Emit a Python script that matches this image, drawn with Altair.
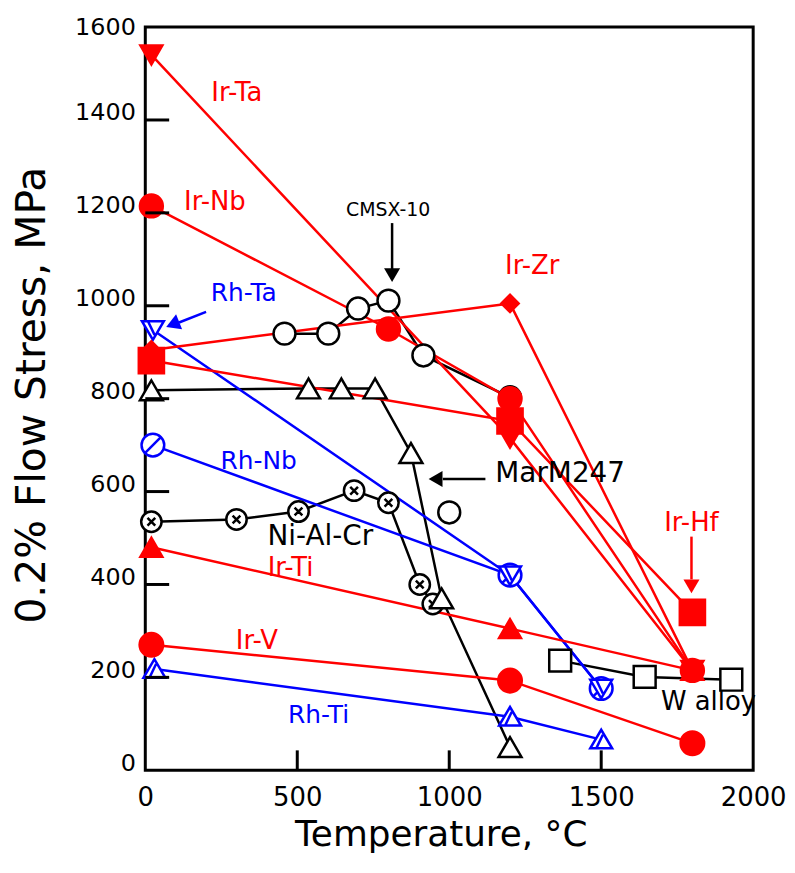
import altair as alt
import pandas as pd

FONT = "DejaVu Sans"
RED = "#ff0000"
BLUE = "#0000ff"
BLACK = "#000000"
WHITE = "#ffffff"

# ---------------- data (temperature in °C, 0.2% flow stress in MPa) ----------------
ir_ta_t = [20, 1200, 1800]
ir_ta_s = [1540, 715, 215]
ir_nb_t = [20, 800, 1200, 1800]
ir_nb_s = [1215, 950, 800, 215]
ir_zr_t = [20, 1200, 1800]
ir_zr_s = [905, 1005, 215]
ir_hf_t = [20, 1200, 1800]
ir_hf_s = [882, 752, 340]
ir_ti_t = [20, 1200, 1800]
ir_ti_s = [480, 305, 215]
ir_v_t = [20, 1200, 1800]
ir_v_s = [270, 193, 58]
rh_ta_t = [25, 1200, 1500]
rh_ta_s = [948, 420, 176]
rh_nb_t = [25, 1200, 1500]
rh_nb_s = [700, 420, 176]
rh_ti_t = [30, 1200, 1500]
rh_ti_s = [218, 115, 66]
cmsx_t = [458, 602, 700, 800, 915, 1200]
cmsx_s = [940, 940, 994, 1011, 893, 803]
marm_t = [20, 537, 645, 756, 874, 975, 1200]
marm_s = [818, 822, 822, 822, 683, 370, 50]
nialcr_t = [20, 300, 504, 687, 800, 903, 946]
nialcr_s = [535, 540, 557, 602, 576, 400, 358]
walloy_t = [1365, 1643, 1928]
walloy_s = [236, 201, 195]
single_t = [1000]
single_s = [555]

# marker outlines (custom symbol paths in the unit square)
CIRCLE_X = "M-1,0A1,1,0,1,1,1,0A1,1,0,1,1,-1,0Z M-0.38,-0.38L0.38,0.38 M-0.38,0.38L0.38,-0.38"
HATCH_CIRCLE = "M-1,0A1,1,0,1,1,1,0A1,1,0,1,1,-1,0Z M-0.7,0.7L0.7,-0.7"
HATCH_TRI_DOWN = "M-1,-0.8L1,-0.8L0,0.9Z M-0.45,-0.8L0.15,0.45"
HATCH_TRI_UP = "M-1,0.8L1,0.8L0,-0.9Z M-0.45,0.8L0.15,-0.45"

# name, temps, stresses, has line, line colour, shape, size, fill, stroke
series = [
    ("W alloy", walloy_t, walloy_s, True, BLACK, "square", 484, WHITE, BLACK),
    ("Ni-Al-Cr", nialcr_t, nialcr_s, True, BLACK, CIRCLE_X, 420, WHITE, BLACK),
    ("MarM247", marm_t, marm_s, True, BLACK, "triangle-up", 530, WHITE, BLACK),
    ("CMSX-10", cmsx_t, cmsx_s, True, BLACK, "circle", 484, WHITE, BLACK),
    ("single", single_t, single_s, False, BLACK, "circle", 484, WHITE, BLACK),
    ("Rh-Ti", rh_ti_t, rh_ti_s, True, BLUE, HATCH_TRI_UP, 484, WHITE, BLUE),
    ("Rh-Nb", rh_nb_t, rh_nb_s, True, BLUE, HATCH_CIRCLE, 520, WHITE, BLUE),
    ("Rh-Ta", rh_ta_t, rh_ta_s, True, BLUE, HATCH_TRI_DOWN, 484, WHITE, BLUE),
    ("Ir-V", ir_v_t, ir_v_s, True, RED, "circle", 560, RED, RED),
    ("Ir-Ti", ir_ti_t, ir_ti_s, True, RED, "triangle-up", 484, RED, RED),
    ("Ir-Zr", ir_zr_t, ir_zr_s, True, RED, "diamond", 300, RED, RED),
    ("Ir-Hf", ir_hf_t, ir_hf_s, True, RED, "square", 640, RED, RED),
    ("Ir-Nb", ir_nb_t, ir_nb_s, True, RED, "circle", 530, RED, RED),
    ("Ir-Ta", ir_ta_t, ir_ta_s, True, RED, "triangle-down", 484, RED, RED),
]

rows = []
for i, (name, ts, ss, has_line, lc, shp, sz, fl, st) in enumerate(series):
    for j, (t, s) in enumerate(zip(ts, ss)):
        rows.append({"series": name, "T": t, "S": s, "line": has_line, "ord": i * 100 + j,
                     "lc": lc, "shape": shp, "sz": sz, "fill": fl, "stroke": st})
df = pd.DataFrame(rows)
df_lines = df[df["line"]]

# text annotations
lab_text = ["Ir-Ta", "Ir-Nb", "Rh-Ta", "Ir-Zr", "CMSX-10", "MarM247", "Rh-Nb",
            "Ni-Al-Cr", "Ir-Ti", "Ir-Hf", "Ir-V", "Rh-Ti", "W  alloy"]
lab_t = [301, 229, 324, 1273, 799, 1365, 373, 576, 478, 1797, 367, 570, 1853]
lab_s = [1458, 1223, 1028, 1086, 1206, 638, 666, 503, 435, 533, 278, 118, 146]
lab_c = [RED, RED, BLUE, RED, BLACK, BLACK, BLUE, BLACK, RED, RED, RED, BLUE, BLACK]
lab_fs = [26, 26, 25, 26, 19, 28, 25, 28, 26, 26, 26, 25, 26]
df_lab = pd.DataFrame({"T": lab_t, "S": lab_s, "txt": lab_text, "c": lab_c, "fs": lab_fs})

# arrows (shaft start -> shaft end, head position / direction)
arr_t1 = [812, 1119, 200, 1797]
arr_s1 = [1178, 627, 987, 503]
arr_t2 = [812, 979, 111, 1797]
arr_s2 = [1079, 627, 964, 411]
arr_c = [BLACK, BLACK, BLUE, RED]
head_t = [812, 955, 90, 1797]
head_s = [1066, 627, 960, 396]
head_ang = [90, 180, 158, 90]
df_arr = pd.DataFrame({"T": arr_t1, "S": arr_s1, "T2": arr_t2, "S2": arr_s2, "c": arr_c})
df_head = pd.DataFrame({"T": head_t, "S": head_s, "ang": head_ang, "c": arr_c})

# inner tick marks
ytick_vals = [200, 400, 600, 800, 1000, 1200, 1400]
xtick_vals = [500, 1000, 1500]
df_yt = pd.DataFrame({"S": ytick_vals})
df_xt = pd.DataFrame({"T": xtick_vals})

W, H = 611, 747

# ---------------- scales / axes ----------------
xscale = alt.Scale(domain=[0, 2000], nice=False, zero=False)
yscale = alt.Scale(domain=[0, 1600], nice=False, zero=False)

xaxis = alt.Axis(values=[0, 500, 1000, 1500, 2000], ticks=False, grid=False, domain=False,
                 labelFont=FONT, labelFontSize=26, labelColor=BLACK, labelPadding=14,
                 labelFlush=False, format="d",
                 title="Temperature, °C", titleFont=FONT, titleFontSize=36,
                 titleFontWeight="normal", titleColor=BLACK,
                 titleX=297, titleY=76, titleBaseline="alphabetic", titleAlign="center")
yaxis = alt.Axis(values=[0, 200, 400, 600, 800, 1000, 1200, 1400, 1600], ticks=False,
                 grid=False, domain=False,
                 labelFont=FONT, labelFontSize=24, labelColor=BLACK, labelPadding=10,
                 labelBaseline={"condition": {"test": "datum.value >= 1600", "value": "middle"},
                                "value": "alphabetic"},
                 format="d",
                 title="0.2% Flow Stress, MPa", titleFont=FONT, titleFontSize=41,
                 titleFontWeight="normal", titleColor=BLACK,
                 titleX=-101, titleY=H / 2 - 4, titleBaseline="alphabetic", titleAlign="center",
                 titleAngle=270)

X = alt.X("T:Q", scale=xscale, axis=xaxis)
Y = alt.Y("S:Q", scale=yscale, axis=yaxis)

line_domain = [s[0] for s in series if s[3]]
line_range = [s[4] for s in series if s[3]]

lines = alt.Chart(df_lines).mark_line(strokeWidth=2.5).encode(
    x=X, y=Y,
    color=alt.Color("series:N", scale=alt.Scale(domain=line_domain, range=line_range), legend=None),
    detail="series:N",
    order="ord:Q",
)

points = alt.Chart(df).mark_point(filled=True, opacity=1, strokeWidth=2.5).encode(
    x=X, y=Y,
    shape=alt.Shape("shape:N", scale=None),
    size=alt.Size("sz:Q", scale=None),
    fill=alt.Fill("fill:N", scale=None),
    stroke=alt.Stroke("stroke:N", scale=None),
    order="ord:Q",
)

yticks = alt.Chart(df_yt).mark_rule(color=BLACK, strokeWidth=3).encode(
    y=Y, x=alt.value(0), x2=alt.value(24))
xticks = alt.Chart(df_xt).mark_rule(color=BLACK, strokeWidth=3).encode(
    x=X, y=alt.value(H), y2=alt.value(H - 20))

arrows = alt.Chart(df_arr).mark_rule(strokeWidth=2.5).encode(
    x=X, y=Y, x2="T2:Q", y2="S2:Q", color=alt.Color("c:N", scale=None))
heads = alt.Chart(df_head).mark_point(filled=True, opacity=1, size=260, shape="triangle-right").encode(
    x=X, y=Y, angle=alt.Angle("ang:Q", scale=None), fill=alt.Fill("c:N", scale=None))

labels = alt.Chart(df_lab).mark_text(font=FONT, align="center", baseline="middle").encode(
    x=X, y=Y, text="txt:N", color=alt.Color("c:N", scale=None), size=alt.Size("fs:Q", scale=None))

chart = alt.layer(lines, points, yticks, xticks, arrows, heads, labels).properties(
    width=W, height=H,
    autosize=alt.AutoSizeParams(type="none"),
    padding={"left": 138, "top": 17, "right": 34, "bottom": 84},
    background="white",
).configure_view(stroke=BLACK, strokeWidth=3)

chart.save("out.html", embed_options={"renderer": "svg", "actions": False})
